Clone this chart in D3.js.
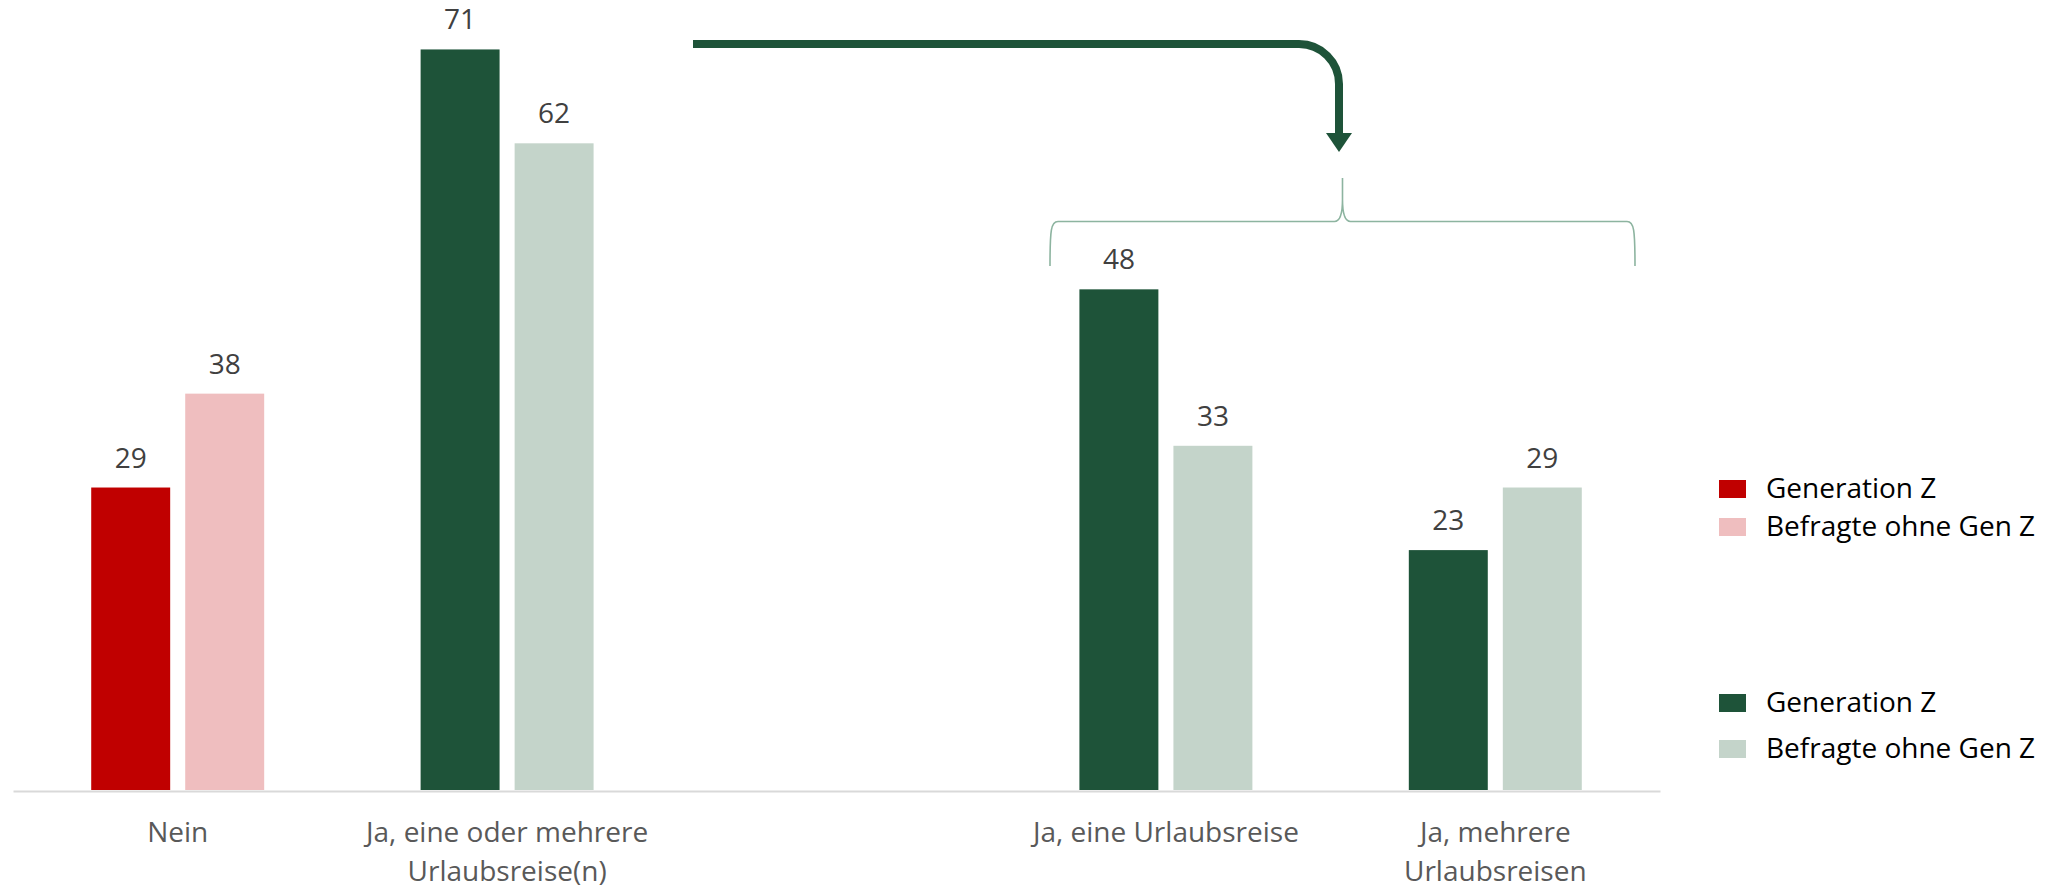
<!DOCTYPE html>
<html>
<head>
<meta charset="utf-8">
<script src="https://cdn.jsdelivr.net/npm/d3@7"></script>
<style>
  html, body { margin: 0; padding: 0; background: #ffffff; }
  svg { display: block; }
  text { font-family: "Open Sans", "Liberation Sans", sans-serif; }
</style>
</head>
<body>
<svg id="chart" width="2062" height="888"></svg>
<script>
// ---- data ----
const categories = ["Nein", "Ja, eine oder mehrere\nUrlaubsreise(n)", "", "Ja, eine Urlaubsreise", "Ja, mehrere\nUrlaubsreisen"];
const seriesNames = ["Generation Z", "Befragte ohne Gen Z"];
const genZ = [29, 71, null, 48, 23];
const ohneGenZ = [38, 62, null, 33, 29];
const colorGroup = ["red", "green", null, "green", "green"];
const palette = {
  red: ["#C00000", "#EFBEBF"],
  green: ["#1E5339", "#C4D4CA"]
};
const legendGroups = [
  { group: "red", labels: ["Generation Z", "Befragte ohne Gen Z"] },
  { group: "green", labels: ["Generation Z", "Befragte ohne Gen Z"] }
];

// ---- layout ----
const svg = d3.select("#chart");
const baseY = 790;
const fs = 28;
const x = d3.scaleBand().domain(categories.map((c, i) => i)).range([13, 1660]).padding(0);
const xSub = d3.scaleBand().domain([0, 1]).range([0, x.bandwidth()]).paddingInner(0.16).paddingOuter(0.832);
const y = d3.scaleLinear().domain([0, 75.74]).range([baseY, 0]);

const rows = [];
categories.forEach((c, i) => {
  if (genZ[i] == null) return;
  [genZ[i], ohneGenZ[i]].forEach((v, s) => rows.push({ i, s, v, color: palette[colorGroup[i]][s] }));
});

// bars
svg.append("g").selectAll("rect").data(rows).join("rect")
  .attr("x", d => x(d.i) + xSub(d.s))
  .attr("y", d => y(d.v))
  .attr("width", xSub.bandwidth())
  .attr("height", d => baseY - y(d.v))
  .attr("fill", d => d.color);

// value labels
svg.append("g").selectAll("text").data(rows).join("text")
  .attr("x", d => x(d.i) + xSub(d.s) + xSub.bandwidth() / 2)
  .attr("y", d => y(d.v) - 20)
  .attr("text-anchor", "middle")
  .attr("font-size", fs)
  .attr("fill", "#404040")
  .text(d => d.v);

// x axis
const xAxis = d3.axisBottom(x).tickSize(0).tickFormat(i => categories[i]);
const gx = svg.append("g").attr("transform", `translate(0,${baseY + 1})`).call(xAxis);
gx.select(".domain").attr("stroke", "#D9D9D9").attr("stroke-width", 2);
gx.selectAll(".tick text").each(function(i) {
  const t = d3.select(this);
  const lines = categories[i].split("\n");
  t.text(null).attr("y", 0).attr("dy", null)
    .attr("font-size", fs).attr("fill", "#595959")
    .attr("font-family", "'Open Sans', sans-serif");
  lines.forEach((ln, k) => {
    t.append("tspan").attr("x", 0).attr("y", 51 + k * 38.5).text(ln);
  });
});

// annotation: arrow from group 2 to the split groups
const green = palette.green[0];
const arrowY = 44;
const arrowX = 1339;
const r = 40;
svg.append("path")
  .attr("d", `M693,${arrowY} L${arrowX - r},${arrowY} A${r},${r} 0 0 1 ${arrowX},${arrowY + r} L${arrowX},136`)
  .attr("fill", "none").attr("stroke", green).attr("stroke-width", 8);
svg.append("path")
  .attr("d", `M${arrowX - 13},133 L${arrowX + 13},133 L${arrowX},152 Z`)
  .attr("fill", green);

// brace
const bL = 1050, bR = 1635, bC = 1342.5, bTop = 178, bMid = 221.5, bBot = 266;
svg.append("path")
  .attr("d", `M${bL},${bBot} C${bL},${bMid + 8} ${bL + 1},${bMid} ${bL + 8},${bMid}
              L${bC - 8},${bMid} C${bC - 2},${bMid} ${bC},${bMid - 8} ${bC},${bMid - 22} L${bC},${bTop}
              M${bC},${bMid - 22} C${bC},${bMid - 8} ${bC + 2},${bMid} ${bC + 8},${bMid}
              L${bR - 8},${bMid} C${bR - 1},${bMid} ${bR},${bMid + 8} ${bR},${bBot}`)
  .attr("fill", "none").attr("stroke", "#8DB4A0").attr("stroke-width", 1.6);

// legends
const legendTops = [480, 694];
legendGroups.forEach((lg, gi) => {
  const g = svg.append("g");
  lg.labels.forEach((lab, k) => {
    const top = legendTops[gi] + k * (gi === 0 ? 38 : 46);
    g.append("rect").attr("x", 1719).attr("y", top).attr("width", 27).attr("height", 18)
      .attr("fill", palette[lg.group][k]);
    g.append("text").attr("x", 1766).attr("y", top + 18)
      .attr("font-size", fs).attr("fill", "#000000").text(lab);
  });
});
</script>
</body>
</html>
